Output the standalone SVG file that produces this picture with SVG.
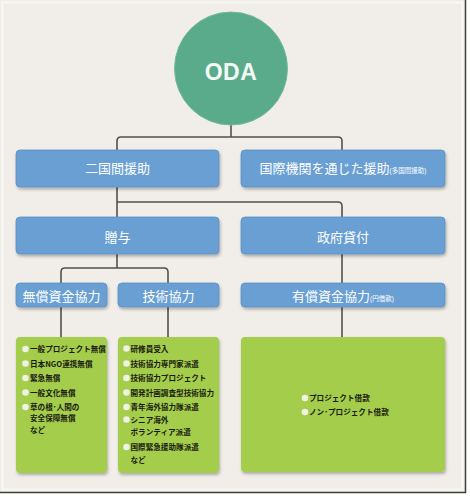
<svg xmlns="http://www.w3.org/2000/svg" width="470" height="497" viewBox="0 0 470 497">
<defs>
<filter id="sh" x="-10%" y="-20%" width="125%" height="160%">
<feDropShadow dx="1" dy="2" stdDeviation="1.5" flood-color="#000" flood-opacity="0.28"/>
</filter>
<style>
.bg{fill:#f1eee9}
.blue{fill:#6a9fd3;stroke:#5b90c6;stroke-width:0.8}
.green{fill:#a4cd4b}
.conn{fill:none;stroke:#505050;stroke-width:1.6}
.bt{font-family:"Liberation Sans","Noto Sans CJK JP",sans-serif;fill:#ffffff;font-size:13px;text-anchor:middle}
.sm{font-size:6.5px}
.gt{font-family:"Noto Sans CJK JP","Liberation Sans",sans-serif;fill:#1a1a12;font-size:7.6px;font-weight:bold}
.dot{fill:#eef2e2}
.oda{font-family:"Liberation Sans","Noto Sans",sans-serif;font-weight:bold;font-size:23px;fill:#f4fbf6;text-anchor:middle;letter-spacing:0.5px}
</style>
</defs>
<rect x="0" y="0" width="470" height="497" fill="#ffffff"/>
<rect class="bg" x="0" y="0" width="466" height="493"/>
<rect x="2.5" y="2.5" width="460" height="487" fill="none" stroke="#faf9f6" stroke-width="1.5"/>
<path d="M465.5,0 V492.5 H0" fill="none" stroke="#3f3f36" stroke-width="1.5"/>

<g id="connectors">
<path class="conn" d="M231,125 V137"/>
<path class="conn" d="M117,150 V141 Q117,137 121,137 H338 Q342,137 342,141 V150"/>
<path class="conn" d="M117,187 V217"/>
<path class="conn" d="M117,202 H338 Q342,202 342,206 V217"/>
<path class="conn" d="M117,254 V268"/>
<path class="conn" d="M61,283 V272 Q61,268 65,268 H164 Q168,268 168,272 V283"/>
<path class="conn" d="M342,254 V283"/>
<path class="conn" d="M61,307 V337"/>
<path class="conn" d="M168,307 V337"/>
<path class="conn" d="M342,307 V337"/>
</g>

<g id="oda">
<circle cx="231" cy="68.5" r="56.5" fill="#5aab8b" stroke="#74bb9e" stroke-width="1"/>
<text class="oda" x="231" y="80">ODA</text>
</g>

<g id="bilateral">
<rect class="blue" x="16" y="150" width="203" height="37" rx="4" filter="url(#sh)"/>
<text class="bt" x="117.5" y="173">二国間援助</text>
</g>
<g id="multilateral">
<rect class="blue" x="241" y="150" width="204" height="37" rx="4" filter="url(#sh)"/>
<text class="bt" x="343" y="173">国際機関を通じた援助<tspan class="sm">(多国間援助)</tspan></text>
</g>

<g id="grant">
<rect class="blue" x="16" y="217" width="203" height="37" rx="4" filter="url(#sh)"/>
<text class="bt" x="117.5" y="242">贈与</text>
</g>
<g id="loan">
<rect class="blue" x="241" y="217" width="204" height="37" rx="4" filter="url(#sh)"/>
<text class="bt" x="343" y="242">政府貸付</text>
</g>

<g id="grant-aid">
<rect class="blue" x="16" y="283" width="91" height="24" rx="4" filter="url(#sh)"/>
<text class="bt" x="61.5" y="301">無償資金協力</text>
</g>
<g id="tech-coop">
<rect class="blue" x="118" y="283" width="101" height="24" rx="4" filter="url(#sh)"/>
<text class="bt" x="168.5" y="301">技術協力</text>
</g>
<g id="loan-aid">
<rect class="blue" x="241" y="283" width="204" height="24" rx="4" filter="url(#sh)"/>
<text class="bt" x="343" y="301">有償資金協力<tspan class="sm">(円借款)</tspan></text>
</g>

<g id="grant-list">
<rect class="green" x="16" y="337" width="91" height="136" rx="4" filter="url(#sh)"/>
<circle class="dot" cx="25.5" cy="349" r="3.3"/>
<circle class="dot" cx="25.5" cy="363.5" r="3.3"/>
<circle class="dot" cx="25.5" cy="378" r="3.3"/>
<circle class="dot" cx="25.5" cy="392.5" r="3.3"/>
<circle class="dot" cx="25.5" cy="407" r="3.3"/>
<text class="gt" x="30" y="352">一般プロジェクト無償</text>
<text class="gt" x="30" y="366.5">日本NGO連携無償</text>
<text class="gt" x="30" y="381">緊急無償</text>
<text class="gt" x="30" y="395.5">一般文化無償</text>
<text class="gt" x="30" y="410">草の根･人間の</text>
<text class="gt" x="30" y="420.5">安全保障無償</text>
<text class="gt" x="30" y="433">など</text>
</g>

<g id="tech-list">
<rect class="green" x="118" y="337" width="101" height="136" rx="4" filter="url(#sh)"/>
<circle class="dot" cx="126.5" cy="348.5" r="3.3"/>
<circle class="dot" cx="126.5" cy="363.5" r="3.3"/>
<circle class="dot" cx="126.5" cy="378" r="3.3"/>
<circle class="dot" cx="126.5" cy="392.5" r="3.3"/>
<circle class="dot" cx="126.5" cy="407" r="3.3"/>
<circle class="dot" cx="126.5" cy="419.5" r="3.3"/>
<circle class="dot" cx="126.5" cy="447" r="3.3"/>
<text class="gt" x="130.5" y="351.5">研修員受入</text>
<text class="gt" x="130.5" y="366.5">技術協力専門家派遣</text>
<text class="gt" x="130.5" y="381">技術協力プロジェクト</text>
<text class="gt" x="130.5" y="395.5">開発計画調査型技術協力</text>
<text class="gt" x="130.5" y="410">青年海外協力隊派遣</text>
<text class="gt" x="130.5" y="422.5">シニア海外</text>
<text class="gt" x="130.5" y="435">ボランティア派遣</text>
<text class="gt" x="130.5" y="450">国際緊急援助隊派遣</text>
<text class="gt" x="130.5" y="463">など</text>
</g>

<g id="loan-list">
<rect class="green" x="241" y="337" width="204" height="135" rx="4" filter="url(#sh)"/>
<circle class="dot" cx="305" cy="398" r="3.3"/>
<circle class="dot" cx="305" cy="412" r="3.3"/>
<text class="gt" x="309" y="401">プロジェクト借款</text>
<text class="gt" x="309" y="415">ノン･プロジェクト借款</text>
</g>
</svg>
